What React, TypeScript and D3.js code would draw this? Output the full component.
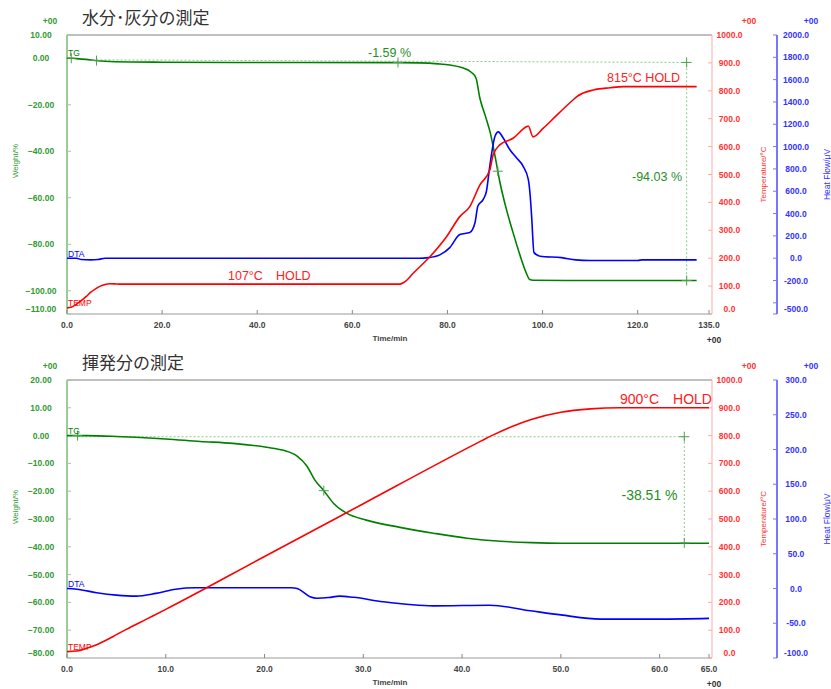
import React from "react";
import * as d3 from "d3";

type P = [number, number];

// ---------- Chart 1: 水分・灰分の測定 ----------
const tgTop: P[] = [
  [0, 0], [1, 0], [2, -0.15], [4, -0.5], [6, -0.95], [8, -1.3], [10, -1.5], [20, -1.7], [35, -1.8],
  [50, -1.85], [70, -1.9], [74, -2.0], [78, -2.4], [80.5, -2.9], [83, -4.0], [85, -6.0], [86, -8.5],
  [86.8, -17], [88, -25], [89, -32], [90, -42], [91, -53], [92.4, -65], [93.8, -75], [95.3, -85],
  [96.5, -92], [97.3, -95.2], [98, -95.5], [105, -95.6], [132.4, -95.6],
];
const dtaTop: P[] = [
  [0, 0], [2, 0], [3, -12], [5, -15], [6.5, -12], [8, 0], [74, 0], [76, 5], [78.4, 30], [80.5, 95],
  [82.6, 212], [84.7, 230], [85.8, 320], [86.4, 468], [87.5, 525], [88.2, 600], [88.9, 823], [90, 1092],
  [90.7, 1132], [91.7, 1079], [93.1, 974], [94.5, 900], [95.9, 825], [97, 706], [97.4, 560], [97.7, 377],
  [98.2, 50], [99.5, 18], [104, 5], [107, -15], [110, -20], [120, -20], [121, -15], [132.4, -15],
];
const tempTop: P[] = [
  [0, 22], [1, 25], [2, 35], [3, 48], [4, 62], [5, 78], [6, 90], [7, 100], [8, 106], [9, 108.5],
  [10, 108], [11, 107], [70, 107], [71, 115], [72.8, 146], [76.3, 205], [79.8, 277], [82.6, 349],
  [84.7, 385], [86.8, 462], [88.9, 516], [89.6, 570], [91, 606], [93.8, 630], [96.6, 671], [97, 674],
  [98, 635], [100.1, 665], [103, 713], [106.4, 767], [107.2, 779], [110.7, 803], [114.2, 811],
  [117, 815], [132.4, 815],
];
const markersTop: P[] = [[0.9, 0], [6.2, -1.0], [69.6, -1.8], [90.6, -48.6], [130.3, -1.8], [130.3, -95.6]];
const guideTop: P[] = [[6.2, -0.7], [130.3, -1.8], [130.3, -95.6]];
const xTicksTop = [0, 20, 40, 60, 80, 100, 120, 135];
const weightTicksTop = [10, 0, -20, -40, -60, -80, -100, -110];
const heatTicksTop = [2000, 1800, 1600, 1400, 1200, 1000, 800, 600, 400, 200, 0, -200, -400, -500];
const heatLabelsTop = ["2000.0", "1800.0", "1600.0", "1400.0", "1200.0", "1000.0", "800.0", "600.0", "400.0", "200.0", "0.0", "-200.0", "", "-500.0"];

// ---------- Chart 2: 揮発分の測定 ----------
const tgBottom: P[] = [
  [0, 0], [2, 0], [5, -0.3], [7.4, -0.7], [10, -1.2], [13.5, -2.1], [16.8, -2.8], [20.2, -4.2],
  [21.9, -5.3], [23.3, -7.4], [24.3, -11], [25.1, -16], [26, -19.8], [27, -24.4], [28.3, -27.9],
  [30.3, -30.4], [33.7, -33], [37.1, -35.1], [40.5, -36.9], [43.9, -38.0], [47, -38.5], [50, -38.7],
  [55, -38.7], [65, -38.7],
];
const dtaBottom: P[] = [
  [0, 0], [1, -1], [3, -6], [5, -9.5], [7, -11], [9, -7], [11, -1], [13, 1], [22.7, 1], [23.3, 0],
  [24.6, -11.8], [25.3, -14], [26.5, -13], [27.6, -11], [29, -12.7], [32, -19], [37.1, -25],
  [42.8, -24], [46.9, -32], [50, -38], [54, -44], [60, -44], [65, -43],
];
const tempBottom: P[] = [
  [0, 23], [1, 25], [2, 35], [3, 48], [4, 65], [5, 84], [6, 103], [8, 139], [10, 175], [20, 365],
  [30, 555], [40, 745], [42, 782], [43, 800], [45, 832], [47, 858], [50, 884], [53, 896], [56, 900], [65, 900],
];
const markersBottom: P[] = [[1.07, 0], [26.0, -19.8], [62.5, -0.4], [62.5, -38.6]];
const guideBottom: P[] = [[1.07, -0.4], [62.5, -0.4], [62.5, -38.6]];
const xTicksBottom = [0, 10, 20, 30, 40, 50, 60, 65];
const weightTicksBottom = [20, 10, 0, -10, -20, -30, -40, -50, -60, -70, -80];
const heatTicksBottom = [300, 250, 200, 150, 100, 50, 0, -50, -100];
const heatLabelsBottom = ["300.0", "250.0", "200.0", "150.0", "100.0", "50.0", "0.0", "-50.0", "-100.0"];

const tempTicks = [1000, 900, 800, 700, 600, 500, 400, 300, 200, 100, 0];

const GREEN = "#008000";
const GREEN_TXT = "#339933";
const GREEN_AXIS = "#99cc99";
const RED = "#ff0000";
const RED_TXT = "#ff3333";
const RED_AXIS = "#ffaaaa";
const BLUE = "#0000ff";
const BLUE_TXT = "#3333ff";
const BLUE_AXIS = "#7777ff";
const FONT = "'Liberation Sans', Arial, sans-serif";
const CJK = "'Noto Sans CJK JP', sans-serif";

interface Ann { text: string; x: number; y: number; color: string; size: number; anchor?: string }

interface Cfg {
  title: string; titleY: number; top: number; bottom: number; xMax: number; xTicks: number[];
  wDomain: [number, number]; wTicks: number[]; hDomain: [number, number]; hTicks: number[]; hLabels: string[];
  tg: P[]; dta: P[]; temp: P[]; markers: P[]; guide: P[]; anns: Ann[];
  labelY: { tg: number; dta: number; temp: number }; weightTitleY: number;
}

const LEFT = 67, XEND = 709, RIGHT = 712, HEATX = 777;

function Chart({ c }: { c: Cfg }) {
  const x = d3.scaleLinear().domain([0, c.xMax]).range([LEFT, XEND]);
  const yW = d3.scaleLinear().domain(c.wDomain).range([c.bottom, c.top]);
  const yT = d3.scaleLinear().domain([0, 1000]).range([c.bottom, c.top]);
  const yH = d3.scaleLinear().domain(c.hDomain).range([c.bottom, c.top]);
  const mk = (ys: d3.ScaleLinear<number, number>) =>
    d3.line<P>().x((d) => x(d[0])).y((d) => ys(d[1])).curve(d3.curveMonotoneX);
  const lblY = (v: number, ys: d3.ScaleLinear<number, number>, min: number) => ys(v) + 3 - (v === min ? 5 : 0);
  const guideLine = d3.line<P>().x((d) => x(d[0])).y((d) => yW(d[1]));
  const midY = (c.top + c.bottom) / 2;
  return (
    <g>
      <text x={82} y={c.titleY} fontFamily={CJK} fontSize={17} fill="#333">{c.title}</text>
      {/* +00 markers */}
      <text x={50} y={c.top - 11} textAnchor="middle" fontFamily={FONT} fontSize={8.5} fontWeight="bold" fill={GREEN_TXT}>+00</text>
      <text x={749} y={c.top - 11} textAnchor="middle" fontFamily={FONT} fontSize={8.5} fontWeight="bold" fill={RED_TXT}>+00</text>
      <text x={811} y={c.top - 11} textAnchor="middle" fontFamily={FONT} fontSize={8.5} fontWeight="bold" fill={BLUE_TXT}>+00</text>
      <text x={714} y={c.bottom + 29} textAnchor="middle" fontFamily={FONT} fontSize={8.5} fontWeight="bold" fill="#333">+00</text>
      {/* frame */}
      <line x1={LEFT} x2={RIGHT} y1={c.top} y2={c.top} stroke="#808080" strokeWidth={1} />
      <line x1={LEFT} x2={RIGHT} y1={c.bottom} y2={c.bottom} stroke="#999" strokeWidth={1} />
      <line x1={LEFT} x2={LEFT} y1={c.top} y2={c.bottom} stroke={GREEN_AXIS} strokeWidth={2} />
      <line x1={RIGHT} x2={RIGHT} y1={c.top} y2={c.bottom} stroke={RED_AXIS} strokeWidth={1} />
      <line x1={HEATX} x2={HEATX} y1={c.top} y2={c.bottom} stroke={BLUE_AXIS} strokeWidth={2} />
      {/* x ticks */}
      {c.xTicks.map((t) => (
        <g key={"x" + t}>
          <line x1={x(t)} x2={x(t)} y1={c.bottom} y2={c.bottom - 4} stroke="#888" />
          <text x={x(t)} y={c.bottom + 14} textAnchor="middle" fontFamily={FONT} fontSize={8.5} fontWeight="bold" fill="#444">{d3.format(".1f")(t)}</text>
        </g>
      ))}
      <text x={390} y={c.bottom + 27} textAnchor="middle" fontFamily={FONT} fontSize={8} fontWeight="bold" fill="#444">Time/min</text>
      {/* weight ticks */}
      {c.wTicks.map((v) => (
        <g key={"w" + v}>
          <line x1={LEFT} x2={LEFT + 4} y1={yW(v)} y2={yW(v)} stroke={GREEN_AXIS} />
          <text x={41} y={lblY(v, yW, c.wDomain[0])} textAnchor="middle" fontFamily={FONT} fontSize={8.5} fontWeight="bold" fill={GREEN_TXT}>{d3.format(".2f")(v)}</text>
        </g>
      ))}
      <text transform={`translate(18,${c.weightTitleY}) rotate(-90)`} textAnchor="middle" fontFamily={FONT} fontSize={8} fill={GREEN_TXT}>Weight/%</text>
      {/* temp ticks */}
      {tempTicks.map((v) => (
        <g key={"t" + v}>
          <line x1={RIGHT - 4} x2={RIGHT} y1={yT(v)} y2={yT(v)} stroke={RED_AXIS} />
          <text x={729.5} y={lblY(v, yT, 0)} textAnchor="middle" fontFamily={FONT} fontSize={8.5} fontWeight="bold" fill={RED_TXT}>{d3.format(".1f")(v)}</text>
        </g>
      ))}
      <text transform={`translate(765.5,${midY}) rotate(-90)`} textAnchor="middle" fontFamily={FONT} fontSize={8} fill={RED_TXT}>Temperature/°C</text>
      {/* heat ticks */}
      {c.hTicks.map((v, i) => (
        <g key={"h" + v}>
          <line x1={HEATX - 4} x2={HEATX} y1={yH(v)} y2={yH(v)} stroke={BLUE_AXIS} />
          <text x={796} y={lblY(v, yH, c.hDomain[0])} textAnchor="middle" fontFamily={FONT} fontSize={8.5} fontWeight="bold" fill={BLUE_TXT}>{c.hLabels[i]}</text>
        </g>
      ))}
      <text transform={`translate(829.5,${midY}) rotate(-90)`} textAnchor="middle" fontFamily={FONT} fontSize={8.5} fill={BLUE_TXT}>Heat Flow/μV</text>
      {/* guides */}
      <path d={guideLine(c.guide) || ""} fill="none" stroke="#88cc88" strokeWidth={1} strokeDasharray="2,2" />
      {/* series */}
      <path d={mk(yW)(c.tg) || ""} fill="none" stroke={GREEN} strokeWidth={1.6} />
      <path d={mk(yH)(c.dta) || ""} fill="none" stroke={BLUE} strokeWidth={1.6} />
      <path d={mk(yT)(c.temp) || ""} fill="none" stroke={RED} strokeWidth={1.6} />
      {c.markers.map((m, i) => (
        <g key={"m" + i} stroke="#4f9f4f" strokeWidth={1}>
          <line x1={x(m[0]) - 5} x2={x(m[0]) + 5} y1={yW(m[1])} y2={yW(m[1])} />
          <line x1={x(m[0])} x2={x(m[0])} y1={yW(m[1]) - 5} y2={yW(m[1]) + 5} />
        </g>
      ))}
      {/* series labels */}
      <text x={68} y={c.labelY.tg} fontFamily={FONT} fontSize={8.5} fill={GREEN}>TG</text>
      <text x={68} y={c.labelY.dta} fontFamily={FONT} fontSize={8.5} fill={BLUE}>DTA</text>
      <text x={68} y={c.labelY.temp} fontFamily={FONT} fontSize={8.5} fill={RED}>TEMP</text>
      {c.anns.map((a, i) => (
        <text key={"a" + i} x={a.x} y={a.y} textAnchor={a.anchor || "start"} fontFamily={FONT} fontSize={a.size} fill={a.color}>{a.text}</text>
      ))}
    </g>
  );
}

const ANN_GREEN = "#1f8f1f";
const ANN_RED = "#ff2020";

const chartTop: Cfg = {
  title: "水分･灰分の測定", titleY: 24, top: 35, bottom: 314, xMax: 135, xTicks: xTicksTop,
  wDomain: [-110, 10], wTicks: weightTicksTop, hDomain: [-500, 2000], hTicks: heatTicksTop, hLabels: heatLabelsTop,
  tg: tgTop, dta: dtaTop, temp: tempTop, markers: markersTop, guide: guideTop,
  anns: [
    { text: "-1.59 %", x: 368, y: 56.5, color: ANN_GREEN, size: 12.5 },
    { text: "815°C HOLD", x: 607, y: 81.5, color: ANN_RED, size: 12.5 },
    { text: "-94.03 %", x: 632, y: 181, color: ANN_GREEN, size: 12.5 },
    { text: "107°C　HOLD", x: 228, y: 280, color: ANN_RED, size: 12.5 },
  ],
  labelY: { tg: 56, dta: 256.5, temp: 306 }, weightTitleY: 161,
};

const chartBottom: Cfg = {
  title: "揮発分の測定", titleY: 369, top: 380, bottom: 658, xMax: 65, xTicks: xTicksBottom,
  wDomain: [-80, 20], wTicks: weightTicksBottom, hDomain: [-100, 300], hTicks: heatTicksBottom, hLabels: heatLabelsBottom,
  tg: tgBottom, dta: dtaBottom, temp: tempBottom, markers: markersBottom, guide: guideBottom,
  anns: [
    { text: "900°C　HOLD", x: 620, y: 403.5, color: ANN_RED, size: 14 },
    { text: "-38.51 %", x: 621.5, y: 499.5, color: ANN_GREEN, size: 14 },
  ],
  labelY: { tg: 433.5, dta: 586.5, temp: 650 }, weightTitleY: 507,
};

export default function App() {
  return (
    <svg width={831} height={689} style={{ position: "absolute", left: 0, top: 0, background: "#fff" }}>
      <rect width={831} height={689} fill="#fff" />
      <Chart c={chartTop} />
      <Chart c={chartBottom} />
    </svg>
  );
}
